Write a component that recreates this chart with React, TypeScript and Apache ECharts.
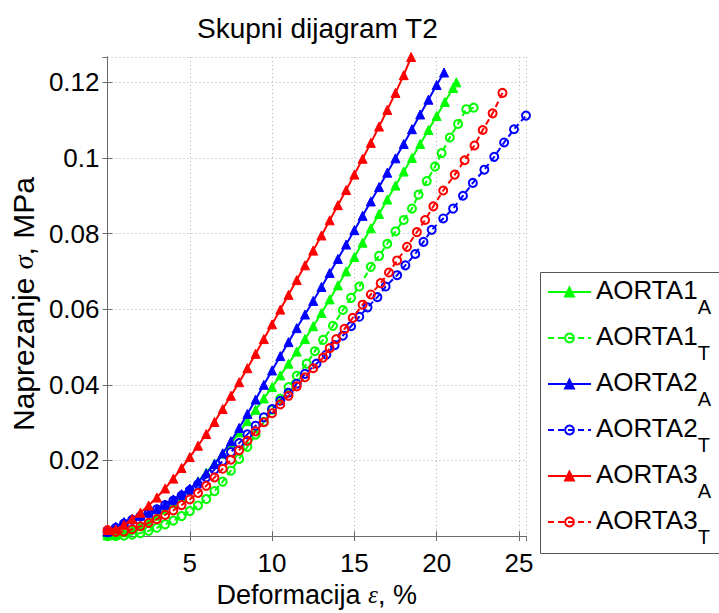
import React, { useEffect, useRef } from "react";
import * as echarts from "echarts";

// ---- data ----
const a1aX = [0, 0.5, 1, 1.5, 2, 2.5, 3, 3.5, 4, 4.5, 5, 5.5, 6, 6.5, 7, 7.5, 8, 8.5, 9, 9.5, 10, 10.5, 11, 11.5, 12, 12.5, 13, 13.5, 14, 14.5, 15, 15.5, 16, 16.5, 17, 17.5, 18, 18.5, 19, 19.5, 20, 20.5, 21, 21.2];
const a1aY = [0.0002, 0.0004, 0.001, 0.0018, 0.0028, 0.004, 0.0054, 0.007, 0.0087, 0.0105, 0.0124, 0.0145, 0.0168, 0.0192, 0.0218, 0.0245, 0.0274, 0.0304, 0.0334, 0.0364, 0.0394, 0.0425, 0.0456, 0.0488, 0.0521, 0.0555, 0.059, 0.0626, 0.0663, 0.07, 0.0738, 0.0776, 0.0814, 0.0852, 0.089, 0.0927, 0.0964, 0.1, 0.1037, 0.1074, 0.1111, 0.1148, 0.1185, 0.12];

const a1tX = [0, 0.5, 1, 1.5, 2, 2.5, 3, 3.5, 4, 4.5, 5, 5.5, 6, 6.5, 7, 7.5, 8, 8.5, 9, 9.5, 10, 10.5, 11, 11.5, 12.1, 12.6, 13.1, 13.7, 14.3, 14.8, 15.3, 16, 16.5, 17, 17.5, 18, 18.5, 18.9, 19.4, 19.9, 20.3, 20.8, 21.3, 21.8, 22.25];
const a1tY = [0, 0, 0.0001, 0.0004, 0.0008, 0.0014, 0.0022, 0.0031, 0.0041, 0.0053, 0.0066, 0.0081, 0.0098, 0.0119, 0.0144, 0.0173, 0.0204, 0.0236, 0.0268, 0.0302, 0.0334, 0.0364, 0.0394, 0.0424, 0.0456, 0.0489, 0.0519, 0.0556, 0.0598, 0.063, 0.066, 0.0712, 0.0741, 0.0773, 0.0806, 0.0836, 0.0866, 0.0903, 0.0939, 0.0977, 0.1013, 0.1054, 0.109, 0.1129, 0.1133];

const a2aX = [0, 0.5, 1, 1.5, 2, 2.5, 3, 3.5, 4, 4.5, 5, 5.5, 6, 6.5, 7, 7.5, 8, 8.5, 9, 9.5, 10, 10.5, 11, 11.5, 12, 12.5, 13, 13.5, 14, 14.5, 15, 15.5, 16, 16.5, 17, 17.5, 18, 18.5, 19, 19.5, 20, 20.45];
const a2aY = [0.0012, 0.0025, 0.0037, 0.0046, 0.0054, 0.0062, 0.0071, 0.0083, 0.0097, 0.0111, 0.0126, 0.0144, 0.0166, 0.0191, 0.0219, 0.0251, 0.0286, 0.0323, 0.0361, 0.04, 0.0438, 0.0476, 0.0513, 0.055, 0.0586, 0.0622, 0.0659, 0.0696, 0.0733, 0.0771, 0.0809, 0.0847, 0.0885, 0.0923, 0.0961, 0.0999, 0.1037, 0.1076, 0.1115, 0.1154, 0.1193, 0.1226];

const a2tX = [0, 0.5, 1, 1.5, 2, 2.5, 3, 3.5, 4, 4.5, 5, 5.5, 6, 6.5, 7, 7.5, 8, 8.5, 9, 9.5, 10, 10.5, 11, 11.5, 12, 12.7, 13.3, 13.8, 14.3, 14.8, 15.3, 15.8, 16.4, 16.9, 17.6, 18.1, 18.7, 19.2, 19.7, 20.4, 21, 21.6, 22.2, 22.9, 23.5, 24.1, 24.7, 25.43];
const a2tY = [0.001, 0.0022, 0.0033, 0.0043, 0.0052, 0.0061, 0.0071, 0.0082, 0.0094, 0.0107, 0.0121, 0.0137, 0.0155, 0.0176, 0.0199, 0.0222, 0.0246, 0.0269, 0.0292, 0.0314, 0.0336, 0.0358, 0.0379, 0.0403, 0.0429, 0.0456, 0.048, 0.0505, 0.053, 0.0555, 0.058, 0.0605, 0.0632, 0.066, 0.069, 0.0716, 0.0746, 0.0778, 0.081, 0.084, 0.0866, 0.09, 0.0934, 0.0969, 0.1003, 0.1041, 0.1076, 0.1112];

const a3aX = [0, 0.5, 1, 1.5, 2, 2.5, 3, 3.5, 4, 4.5, 5, 5.5, 6, 6.5, 7, 7.5, 8, 8.5, 9, 9.5, 10, 10.5, 11, 11.5, 12, 12.5, 13, 13.5, 14, 14.5, 15, 15.5, 16, 16.5, 17, 17.5, 18, 18.45];
const a3aY = [0.0016, 0.0018, 0.003, 0.0045, 0.0062, 0.0081, 0.0102, 0.0126, 0.0152, 0.018, 0.0209, 0.0239, 0.027, 0.0302, 0.0336, 0.0371, 0.0407, 0.0444, 0.0482, 0.0521, 0.056, 0.0599, 0.0638, 0.0677, 0.0716, 0.0755, 0.0795, 0.0835, 0.0875, 0.0915, 0.0956, 0.0998, 0.104, 0.1083, 0.1127, 0.1172, 0.1219, 0.1267];

const a3tX = [0, 0.5, 1, 1.5, 2, 2.5, 3, 3.5, 4, 4.5, 5, 5.5, 6, 6.5, 7, 7.5, 8, 8.5, 9, 9.5, 10, 10.5, 11, 11.5, 12, 12.5, 13.1, 13.5, 13.9, 14.4, 14.9, 15.5, 16, 16.6, 17.1, 17.6, 18.2, 18.8, 19.3, 19.8, 20.4, 21.1, 21.7, 22.3, 22.8, 23.4, 24];
const a3tY = [0.0016, 0.0011, 0.0012, 0.0018, 0.0026, 0.0035, 0.0045, 0.0056, 0.0068, 0.0082, 0.0097, 0.0114, 0.0133, 0.0155, 0.0178, 0.0202, 0.0227, 0.0252, 0.0277, 0.0301, 0.0325, 0.0348, 0.0371, 0.0396, 0.042, 0.0444, 0.0472, 0.0497, 0.0521, 0.0548, 0.0577, 0.0612, 0.0639, 0.0669, 0.0697, 0.0729, 0.0765, 0.0804, 0.0836, 0.0872, 0.0914, 0.0956, 0.0994, 0.1033, 0.1074, 0.1118, 0.1172];

const seriesNames = ["AORTA1_A", "AORTA1_T", "AORTA2_A", "AORTA2_T", "AORTA3_A", "AORTA3_T"];
const seriesColors = ["#00ff00", "#00ff00", "#0000ff", "#0000ff", "#ff0000", "#ff0000"];
const seriesX = [a1aX, a1tX, a2aX, a2tX, a3aX, a3tX];
const seriesY = [a1aY, a1tY, a2aY, a2tY, a3aY, a3tY];

const xMin = 0;
const xMax = 25.43;
const xStep = 5;
const yMin = 0;
const yMax = 0.1267;
const yStep = 0.02;

const titleText = "Skupni dijagram T2";

const FONT = "'Liberation Sans', Arial, Helvetica, sans-serif";
const SERIF = "'Liberation Serif', 'DejaVu Serif', serif";

export default function App() {
  const ref = useRef<HTMLDivElement>(null);

  useEffect(() => {
    document.body.style.margin = "0";
    if (!ref.current) return;
    const chart = echarts.init(ref.current, undefined, { renderer: "svg" });

    const series = seriesNames.map((name, i) => {
      const dashed = name.endsWith("_T");
      const color = seriesColors[i];
      return {
        type: "line",
        name,
        data: seriesX[i].map((x, j) => [x, seriesY[i][j]]),
        symbol: dashed ? "circle" : "triangle",
        symbolSize: dashed ? 8 : 9,
        showAllSymbol: true,
        clip: false,
        lineStyle: { color, width: 2, type: dashed ? [6, 4] : "solid" },
        itemStyle: dashed
          ? { color: "rgba(255,255,255,0)", borderColor: color, borderWidth: 2 }
          : { color, borderColor: color, borderWidth: 1 },
        emphasis: { disabled: true },
        z: 2 + i,
      };
    });

    const gridLine = { show: true, lineStyle: { color: "#b4b4b4", type: [1, 3], width: 1 } };
    const axisLine = { show: true, lineStyle: { color: "#6a6a6a", width: 1 } };
    const axisTick = { show: true, inside: true, length: 5, lineStyle: { color: "#6a6a6a" } };

    const xNameRich = {
      t: { fontSize: 27, fontFamily: FONT, color: "#000" },
      g: { fontSize: 25, fontFamily: SERIF, fontStyle: "italic", color: "#000" },
    };
    const yNameRich = {
      t: { fontSize: 30, fontFamily: FONT, color: "#000" },
      g: { fontSize: 28, fontFamily: SERIF, fontStyle: "italic", color: "#000" },
    };

    chart.setOption({
      animation: false,
      backgroundColor: "#fff",
      title: {
        text: titleText,
        left: 192,
        top: 9,
        textStyle: { fontSize: 28, fontWeight: "normal", fontFamily: FONT, color: "#000" },
      },
      grid: { left: 102, top: 57, width: 424, height: 494, containLabel: false },
      graphic: [
        {
          type: "rect",
          left: 540,
          top: 272,
          z: 0,
          zlevel: 0,
          shape: { width: 200, height: 281 },
          style: { fill: "#fff", stroke: "#555", lineWidth: 1 },
          silent: true,
        },
      ],
      xAxis: [
        {
          type: "value",
          min: xMin,
          max: xMax,
          interval: xStep,
          axisLine,
          axisTick,
          splitLine: gridLine,
          axisLabel: {
            show: true,
            margin: 14,
            fontSize: 26,
            fontFamily: FONT,
            color: "#000",
            showMaxLabel: false,
            formatter: (v: number) => (v === 0 ? "" : String(v)),
          },
          name: "{t|Deformacija }{g|ε}{t|, %}",
          nameLocation: "middle",
          nameGap: 38,
          nameTextStyle: { rich: xNameRich },
        },
        {
          type: "value",
          position: "top",
          min: xMin,
          max: xMax,
          interval: xStep,
          axisLine,
          axisTick,
          splitLine: { show: false },
          axisLabel: { show: false },
        },
      ],
      yAxis: [
        {
          type: "value",
          min: yMin,
          max: yMax,
          interval: yStep,
          axisLine,
          axisTick,
          splitLine: gridLine,
          axisLabel: {
            show: true,
            margin: 8,
            fontSize: 26,
            fontFamily: FONT,
            color: "#000",
            showMaxLabel: false,
            formatter: (v: number) => (v === 0 ? "" : String(Math.round(v * 100) / 100)),
          },
          name: "{t|Naprezanje }{g|σ}{t|, MPa}",
          nameLocation: "middle",
          nameGap: 67,
          nameRotate: 90,
          nameTextStyle: { rich: yNameRich, padding: [0, 15, 0, 0] },
        },
        {
          type: "value",
          position: "right",
          min: yMin,
          max: yMax,
          interval: yStep,
          axisLine,
          axisTick,
          splitLine: { show: false },
          axisLabel: { show: false },
        },
      ],
      legend: {
        orient: "vertical",
        left: 540,
        top: 272,
        padding: [5, 10, 4, 7],
        itemGap: 6,
        itemWidth: 43,
        itemHeight: 11,
        backgroundColor: "transparent",
        borderWidth: 0,
        z: 10,
        data: seriesNames,
        formatter: (n: string) => {
          const [m, s] = n.split("_");
          return `{m|${m}}{s|${s}}`;
        },
        textStyle: {
          color: "#000",
          rich: {
            m: { fontSize: 26, fontFamily: FONT, color: "#000", lineHeight: 30, verticalAlign: "top" },
            s: { fontSize: 20, fontFamily: FONT, color: "#000", lineHeight: 20, padding: [20, 0, 0, 0], verticalAlign: "top" },
          },
        },
      },
      series,
    });

    return () => chart.dispose();
  }, []);

  return <div ref={ref} style={{ width: 719, height: 613 }} />;
}
